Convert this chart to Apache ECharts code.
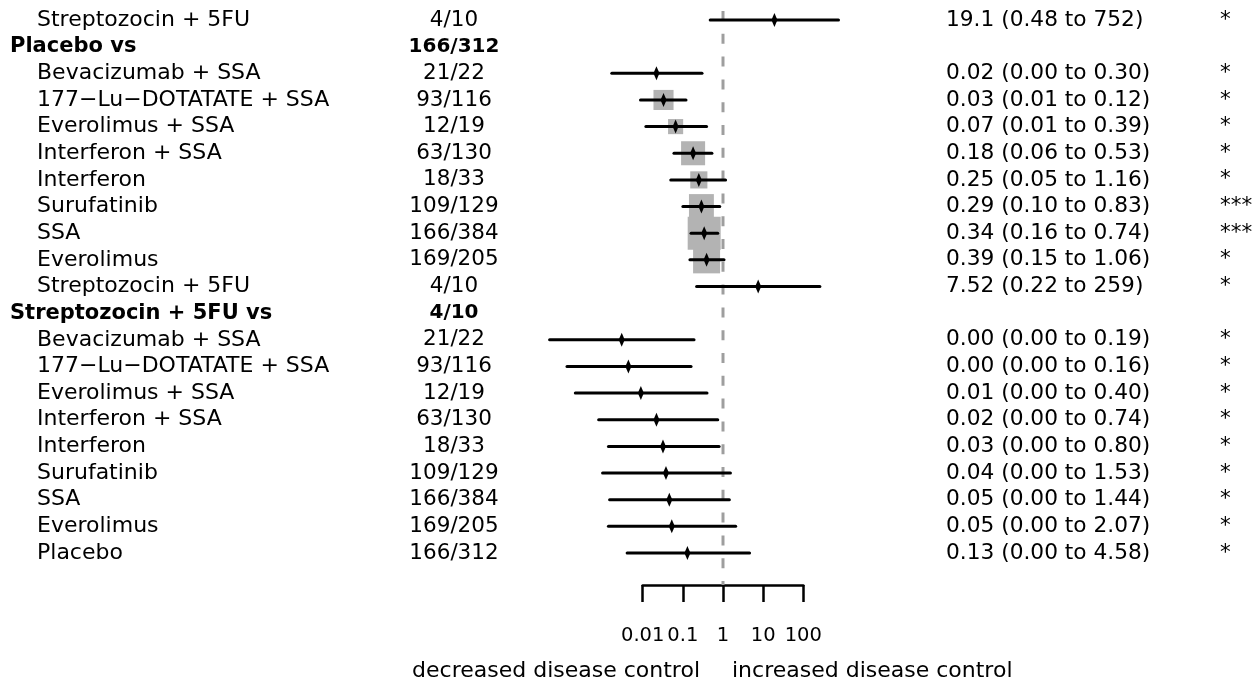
<!DOCTYPE html>
<html>
<head>
<meta charset="utf-8">
<title>Disease control forest plot</title>
<script src="https://cdn.jsdelivr.net/npm/echarts@6/dist/echarts.min.js"></script>
<style>
  html, body { margin: 0; background: #fff; }
  #forest_view { width: 1253px; height: 684px; }
</style>
</head>
<body>
<div id="forest_view"></div>
<script>
  // rows top to bottom; rows 1 and 11 are the "X vs" group headers
  let rowLabels = [
    'Streptozocin + 5FU', 'Placebo vs', 'Bevacizumab + SSA', '177\u2212Lu\u2212DOTATATE + SSA',
    'Everolimus + SSA', 'Interferon + SSA', 'Interferon', 'Surufatinib', 'SSA', 'Everolimus',
    'Streptozocin + 5FU', 'Streptozocin + 5FU vs', 'Bevacizumab + SSA', '177\u2212Lu\u2212DOTATATE + SSA',
    'Everolimus + SSA', 'Interferon + SSA', 'Interferon', 'Surufatinib', 'SSA', 'Everolimus', 'Placebo'
  ];
  let headerRows = [1, 11];
  let counts = [
    '4/10', '166/312', '21/22', '93/116', '12/19', '63/130', '18/33', '109/129', '166/384', '169/205',
    '4/10', '4/10', '21/22', '93/116', '12/19', '63/130', '18/33', '109/129', '166/384', '169/205', '166/312'
  ];
  let estimate = [19.1, null, 0.022, 0.033, 0.066, 0.18, 0.25, 0.29, 0.34, 0.39,
    7.52, null, 0.0030, 0.0044, 0.009, 0.022, 0.032, 0.038, 0.046, 0.053, 0.13];
  let lower = [0.48, null, 0.0017, 0.0088, 0.012, 0.06, 0.05, 0.10, 0.16, 0.15,
    0.22, null, 0.000048, 0.00013, 0.00021, 0.0008, 0.0014, 0.001, 0.0015, 0.0014, 0.0041];
  let upper = [752, null, 0.30, 0.12, 0.39, 0.53, 1.16, 0.83, 0.74, 1.06,
    259, null, 0.19, 0.16, 0.40, 0.74, 0.80, 1.53, 1.44, 2.07, 4.58];
  // relative weight of the direct evidence, shown as the grey squares
  let weight = [0, null, 0, 37, 21, 53, 27, 57, 100, 67,
    0, null, 0, 0, 0, 0, 0, 0, 0, 0, 0];
  let effectText = [
    '19.1 (0.48 to 752)', '', '0.02 (0.00 to 0.30)', '0.03 (0.01 to 0.12)', '0.07 (0.01 to 0.39)',
    '0.18 (0.06 to 0.53)', '0.25 (0.05 to 1.16)', '0.29 (0.10 to 0.83)', '0.34 (0.16 to 0.74)',
    '0.39 (0.15 to 1.06)', '7.52 (0.22 to 259)', '', '0.00 (0.00 to 0.19)', '0.00 (0.00 to 0.16)',
    '0.01 (0.00 to 0.40)', '0.02 (0.00 to 0.74)', '0.03 (0.00 to 0.80)', '0.04 (0.00 to 1.53)',
    '0.05 (0.00 to 1.44)', '0.05 (0.00 to 2.07)', '0.13 (0.00 to 4.58)'
  ];
  let stars = ['*', '', '*', '*', '*', '*', '*', '***', '***', '*', '*', '', '*', '*', '*', '*', '*', '*', '*', '*', '*'];
  let tickLabels = ['0.01', '0.1', '1', '10', '100'];
  let leftLabel = 'decreased disease control';
  let rightLabel = 'increased disease control';

  // layout: one decade = 40.15px, OR = 1 sits at x = 723
  const FONT = 'DejaVu Sans';
  const decade = 40.15;
  const oneX = 723;
  const rowH = 26.65;
  const plotLeft = oneX - 5 * decade;     // 1e-5
  const plotRight = oneX + 4 * decade;    // 1e4
  const plotTop = 20 - rowH / 2;

  let rowIdx = rowLabels.map((_, i) => i);

  let ciData = [];
  let squareData = [];
  rowIdx.forEach(function (i) {
    if (estimate[i] === null) return;
    ciData.push([estimate[i], lower[i], upper[i], i]);
    if (weight[i] > 0) squareData.push([estimate[i], i, weight[i]]);
  });

  let textAxis = function (position, margin, align, fontSize, formatter) {
    return {
      type: 'category',
      gridIndex: 0,
      data: rowIdx,
      inverse: true,
      position: position,
      axisLine: { show: false },
      axisTick: { show: false },
      splitLine: { show: false },
      axisLabel: {
        interval: 0,
        margin: margin,
        align: align,
        color: '#000',
        fontFamily: FONT,
        fontSize: fontSize,
        formatter: formatter,
        rich: {
          h: { fontWeight: 'bold', fontSize: 21, fontFamily: FONT, color: '#000' },
          hc: { fontWeight: 'bold', fontSize: 20, fontFamily: FONT, color: '#000' },
          n: { fontSize: 22, fontFamily: FONT, color: '#000', padding: [0, 0, 0, 27] }
        }
      }
    };
  };

  let chart = echarts.init(document.getElementById('forest_view'));

  chart.setOption({
    animation: false,
    backgroundColor: '#fff',
    textStyle: { fontFamily: FONT, color: '#000' },
    grid: [
      // rows
      {
        left: plotLeft, width: plotRight - plotLeft,
        top: plotTop, height: rowH * rowLabels.length,
        outerBoundsMode: 'none'
      },
      // bottom scale 0.01 .. 100 and the null line
      {
        left: oneX - 2 * decade, width: 4 * decade,
        top: 11, height: 574,
        outerBoundsMode: 'none'
      }
    ],
    xAxis: [
      { type: 'log', logBase: 10, gridIndex: 0, min: 0.00001, max: 10000, show: false },
      {
        type: 'log', logBase: 10, gridIndex: 1, min: 0.01, max: 100,
        position: 'bottom',
        splitLine: { show: false },
        axisLine: { show: true, lineStyle: { color: '#000', width: 2.5 } },
        axisTick: { show: true, inside: false, length: 17, lineStyle: { color: '#000', width: 2.5 } },
        axisLabel: {
          margin: 41,
          color: '#000',
          fontFamily: FONT,
          fontSize: 19.5,
          formatter: function (v) {
            return tickLabels[Math.round(Math.log10(v)) + 2];
          }
        }
      }
    ],
    yAxis: [
      textAxis('left', plotLeft - 10, 'left', 22, function (v, i) {
        return headerRows.indexOf(i) >= 0 ? '{h|' + rowLabels[i] + '}' : '{n|' + rowLabels[i] + '}';
      }),
      textAxis('left', plotLeft - 454, 'center', 21.5, function (v, i) {
        return headerRows.indexOf(i) >= 0 ? '{hc|' + counts[i] + '}' : counts[i];
      }),
      textAxis('right', 946 - plotRight, 'left', 21.7, function (v, i) {
        return effectText[i];
      }),
      textAxis('right', 1220 - plotRight, 'left', 21.5, function (v, i) {
        return stars[i];
      }),
      { type: 'value', gridIndex: 1, min: 0, max: 1, show: false }
    ],
    series: [
      {
        name: 'null line',
        type: 'line',
        xAxisIndex: 1,
        yAxisIndex: 4,
        data: [[1, 1], [1, 0]],
        symbol: 'none',
        silent: true,
        z: 1,
        lineStyle: { color: '#9e9e9e', width: 3, type: [10, 12.8] }
      },
      {
        name: 'weight',
        type: 'scatter',
        xAxisIndex: 0,
        yAxisIndex: 0,
        data: squareData,
        symbol: 'rect',
        symbolSize: function (value) {
          return 33 * Math.sqrt(value[2] / 100);
        },
        itemStyle: { color: '#b3b3b3', opacity: 1 },
        z: 2
      },
      {
        name: 'odds ratio',
        type: 'custom',
        xAxisIndex: 0,
        yAxisIndex: 0,
        data: ciData,
        encode: { x: [0, 1, 2], y: 3 },
        z: 3,
        renderItem: function (params, api) {
          let row = api.value(3);
          let est = api.coord([api.value(0), row]);
          let lo = api.coord([api.value(1), row]);
          let hi = api.coord([api.value(2), row]);
          return {
            type: 'group',
            children: [
              {
                type: 'line',
                shape: { x1: lo[0], y1: lo[1], x2: hi[0], y2: hi[1] },
                style: { stroke: '#000', lineWidth: 3, lineCap: 'round' }
              },
              {
                type: 'polygon',
                shape: {
                  points: [[est[0], est[1] - 7], [est[0] + 3, est[1]], [est[0], est[1] + 7], [est[0] - 3, est[1]]]
                },
                style: { fill: '#000' }
              }
            ]
          };
        }
      }
    ],
    graphic: [
      {
        type: 'text', x: oneX - 23, y: 671,
        style: { text: leftLabel, align: 'right', verticalAlign: 'middle', font: '22px "DejaVu Sans"', fill: '#000' }
      },
      {
        type: 'text', x: oneX + 9, y: 671,
        style: { text: rightLabel, align: 'left', verticalAlign: 'middle', font: '22px "DejaVu Sans"', fill: '#000' }
      }
    ]
  });
</script>
</body>
</html>
